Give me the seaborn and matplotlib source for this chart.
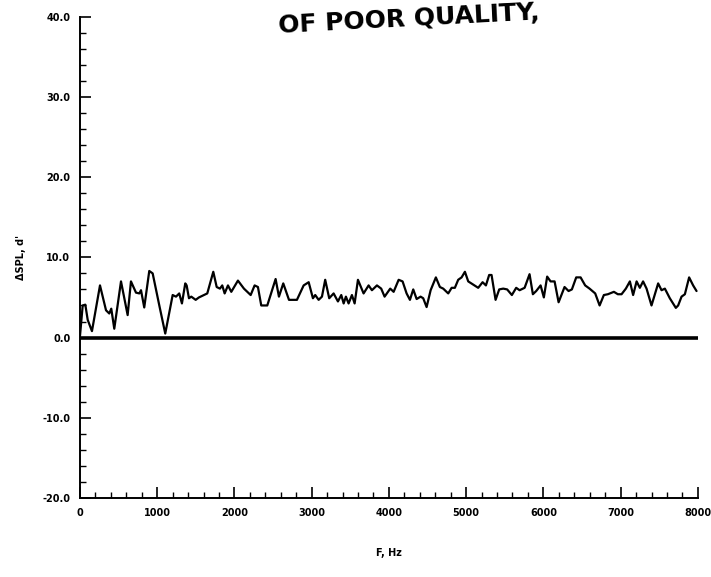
import numpy as np
import pandas as pd
import matplotlib
matplotlib.use("Agg")
import matplotlib.pyplot as plt
import seaborn as sns
from matplotlib.ticker import MultipleLocator, FormatStrFormatter

sns.set_style("ticks")
plt.rcParams['font.family'] = ['DejaVu Sans']
plt.rcParams['text.color'] = 'black'
plt.rcParams['axes.labelcolor'] = 'black'
plt.rcParams['xtick.color'] = 'black'
plt.rcParams['ytick.color'] = 'black'
plt.rcParams['axes.edgecolor'] = 'black'

# ------------------------------
# Data (frequency in Hz, delta SPL in dB)
# ------------------------------
freq_hz = [
    0, 35, 69, 100, 155, 259, 337, 379, 405, 444, 531, 617, 660, 725, 768, 790,
    832, 897, 941, 1027, 1104, 1200, 1243, 1285, 1320, 1363, 1381, 1411, 1441,
    1498, 1540, 1648, 1726, 1770, 1812, 1842, 1873, 1916, 1959, 2045, 2123,
    2210, 2261, 2304, 2347, 2425, 2533, 2576, 2632, 2706, 2770, 2809, 2896,
    2961, 3016, 3046, 3090, 3133, 3175, 3227, 3284, 3340, 3383, 3414, 3443,
    3478, 3521, 3556, 3599, 3672, 3737, 3780, 3845, 3900, 3944, 4017, 4061,
    4126, 4177, 4229, 4272, 4315, 4359, 4410, 4444, 4488, 4540, 4608, 4660,
    4703, 4768, 4812, 4854, 4897, 4941, 4984, 5027, 5091, 5156, 5213, 5256,
    5298, 5329, 5381, 5428, 5480, 5531, 5592, 5648, 5692, 5757, 5821, 5864,
    5907, 5964, 6006, 6049, 6093, 6145, 6197, 6274, 6326, 6369, 6425, 6482,
    6541, 6598, 6671, 6728, 6783, 6835, 6913, 6964, 7012, 7068, 7120, 7162,
    7207, 7249, 7291, 7336, 7400, 7486, 7530, 7573, 7637, 7715, 7745, 7789,
    7832, 7887, 7939, 7983,
]
delta_spl = [
    0.2, 4.0, 4.1, 2.2, 0.8, 6.5, 3.4, 3.0, 3.6, 1.1, 7.0, 2.8, 7.0, 5.6, 5.5,
    5.9, 3.75, 8.3, 8.0, 4.0, 0.5, 5.3, 5.1, 5.5, 4.25, 6.75, 6.5, 4.9, 5.1,
    4.7, 5.0, 5.5, 8.2, 6.3, 6.1, 6.5, 5.5, 6.5, 5.7, 7.1, 6.1, 5.3, 6.5,
    6.3, 4.0, 4.0, 7.3, 5.1, 6.75, 4.7, 4.7, 4.7, 6.5, 6.9, 4.9, 5.3, 4.7,
    5.1, 7.2, 4.9, 5.5, 4.5, 5.3, 4.25, 5.1, 4.25, 5.3, 4.25, 7.2, 5.5, 6.5,
    5.9, 6.5, 6.1, 5.1, 6.1, 5.7, 7.2, 7.0, 5.5, 4.7, 6.0, 4.8, 5.1, 4.9,
    3.8, 5.9, 7.5, 6.3, 6.1, 5.5, 6.2, 6.2, 7.2, 7.5, 8.2, 7.0, 6.6, 6.2,
    6.9, 6.5, 7.8, 7.8, 4.7, 6.0, 6.1, 6.0, 5.3, 6.2, 5.9, 6.2, 7.9, 5.4,
    5.8, 6.5, 5.0, 7.6, 7.0, 7.0, 4.4, 6.3, 5.8, 6.0, 7.5, 7.5, 6.5, 6.1,
    5.5, 4.0, 5.3, 5.4, 5.7, 5.4, 5.4, 6.1, 7.0, 5.3, 7.0, 6.2, 7.0, 6.1,
    4.0, 6.75, 5.9, 6.1, 4.9, 3.7, 4.0, 5.1, 5.4, 7.5, 6.5, 5.8,
]

spl_df = pd.DataFrame({"F": freq_hz, "dSPL": delta_spl})

# ------------------------------
# Figure
# ------------------------------
fig = plt.figure(figsize=(7.11, 5.77), dpi=100)
ax = fig.add_axes([0.1125, 0.137, 0.869, 0.834])

ax.axhline(0, color="black", lw=2.6, zorder=2)
sns.lineplot(data=spl_df, x="F", y="dSPL", color="black", lw=1.6, ax=ax, zorder=3)

ax.set_xlim(0, 8000)
ax.set_ylim(-20, 40)

ax.xaxis.set_major_locator(MultipleLocator(1000))
ax.xaxis.set_minor_locator(MultipleLocator(200))
ax.yaxis.set_major_locator(MultipleLocator(10))
ax.yaxis.set_minor_locator(MultipleLocator(2))
ax.yaxis.set_major_formatter(FormatStrFormatter("%.1f"))

ax.tick_params(axis="both", which="major", direction="in", length=8, width=1.2,
               labelsize=7, pad=7)
ax.tick_params(axis="both", which="minor", direction="in", length=4, width=1.0)
for lab in ax.get_xticklabels() + ax.get_yticklabels():
    lab.set_fontweight("bold")

for side in ["top", "right"]:
    ax.spines[side].set_visible(False)
for side in ["left", "bottom"]:
    ax.spines[side].set_linewidth(1.4)

ax.set_xlabel("F, Hz", fontsize=7, fontweight="bold", labelpad=22)
ax.set_ylabel("ΔSPL, d'", fontsize=7, fontweight="bold", labelpad=12)

# stamp text at the top, kept just inside the figure edge
fig.text(0.575, 0.966, "OF POOR QUALITY,", ha="center", va="center",
         fontsize=18, fontweight="bold", rotation=3)

fig.savefig("out.png", dpi=100)
plt.close(fig)
